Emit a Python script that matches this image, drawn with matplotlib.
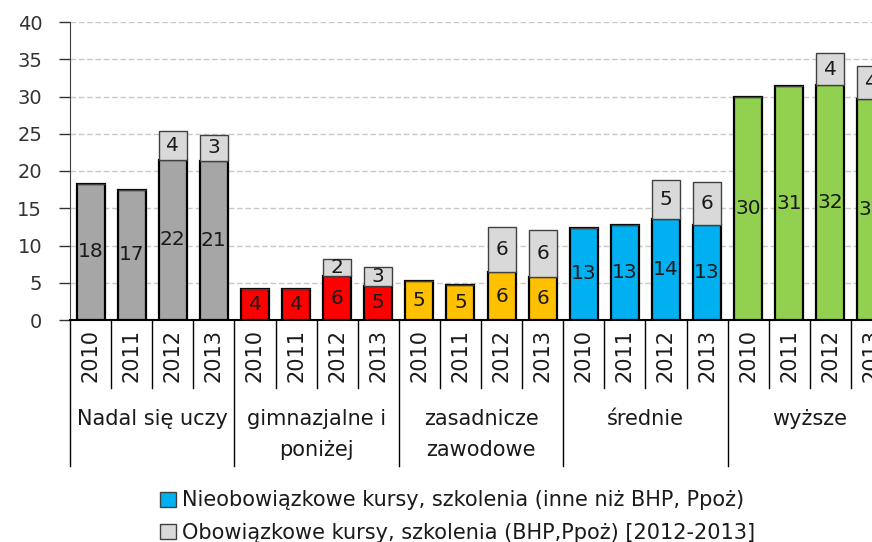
import matplotlib
matplotlib.use("Agg")
import matplotlib.pyplot as plt
from matplotlib.patches import Patch

# ── dane ──
groups = ["Nadal się uczy", "gimnazjalne i\nponiżej", "zasadnicze\nzawodowe", "średnie", "wyższe"]
years = ["2010", "2011", "2012", "2013"]
group_colors = ["#A6A6A6", "#FF0000", "#FFC000", "#00B0F0", "#92D050"]

# nieobowiązkowe kursy (dolna część słupka)
base_values = [
    18.3, 17.5, 21.5, 21.4,
    4.2, 4.2, 5.9, 4.6,
    5.3, 4.7, 6.4, 5.8,
    12.4, 12.7, 13.5, 12.7,
    29.9, 31.4, 31.5, 29.7,
]
base_labels = [
    18, 17, 22, 21,
    4, 4, 6, 5,
    5, 5, 6, 6,
    13, 13, 14, 13,
    30, 31, 32, 30,
]
# obowiązkowe kursy BHP/Ppoż (tylko 2012-2013)
top_values = [
    0, 0, 3.9, 3.4,
    0, 0, 2.3, 2.5,
    0, 0, 6.1, 6.3,
    0, 0, 5.3, 5.8,
    0, 0, 4.3, 4.4,
]
top_labels = [
    None, None, 4, 3,
    None, None, 2, 3,
    None, None, 6, 6,
    None, None, 5, 6,
    None, None, 4, 4,
]
legend_labels = [
    "Nieobowiązkowe kursy, szkolenia (inne niż BHP, Ppoż)",
    "Obowiązkowe kursy, szkolenia (BHP,Ppoż) [2012-2013]",
]

NUM_FONT = ["DejaVu Sans"]
TXT_FONT = ["Liberation Sans Narrow", "DejaVu Sans Condensed", "DejaVu Sans"]
TEXT_C = "#1A1A1A"

fig = plt.figure(figsize=(8.72, 5.42), dpi=100)
ax = fig.add_axes([70 / 872, 222 / 542, 822 / 872, 298 / 542])

n = len(base_values)
xs = [i + 0.5 for i in range(n)]
colors = [group_colors[i // len(years)] for i in range(n)]

ax.bar(xs, base_values, width=0.68, color=colors, edgecolor="black", linewidth=1.6, zorder=3)
ax.bar(xs, top_values, bottom=base_values, width=0.68, color="#D9D9D9",
       edgecolor="#404040", linewidth=1.0, zorder=3)

for x, b, t, bl, tl in zip(xs, base_values, top_values, base_labels, top_labels):
    ax.text(x, b / 2, str(bl), ha="center", va="center", fontsize=14.5,
            family=NUM_FONT, color=TEXT_C, zorder=4)
    if tl is not None:
        ax.text(x, b + t / 2, str(tl), ha="center", va="center", fontsize=14.5,
                family=NUM_FONT, color=TEXT_C, zorder=4)

ax.set_xlim(0, n)
ax.set_ylim(0, 40)
ax.set_yticks(range(0, 41, 5))
ax.tick_params(axis="y", labelsize=14, colors="#333333", length=8, width=1,
               direction="out", pad=12)
for lbl in ax.get_yticklabels():
    lbl.set_family(NUM_FONT)
ax.set_xticks([])
ax.yaxis.grid(True, linestyle=(0, (4, 2)), color="#C8C8C8", linewidth=1)
ax.set_axisbelow(True)
for side in ("top", "right"):
    ax.spines[side].set_visible(False)
ax.spines["left"].set_color("#404040")
ax.spines["bottom"].set_color("black")
ax.spines["bottom"].set_linewidth(1.5)

# ── oś kategorii (dwupoziomowa) ──
tr = ax.get_xaxis_transform()
for i in range(n + 1):
    depth = -0.49 if i % len(years) == 0 else -0.228
    ax.plot([i, i], [0, depth], transform=tr, color="black", linewidth=1, clip_on=False)

for i, x in enumerate(xs):
    ax.text(x, -0.03, years[i % len(years)], transform=tr, rotation=90,
            ha="center", va="top", fontsize=15, family=NUM_FONT, color=TEXT_C)

for g, name in enumerate(groups):
    ax.text(g * len(years) + len(years) / 2, -0.30, name, transform=tr,
            ha="center", va="top", fontsize=15, family=TXT_FONT, color=TEXT_C,
            linespacing=1.65)

# ── legenda ──
handles = [
    Patch(facecolor="#00B0F0", edgecolor="#404040", linewidth=1),
    Patch(facecolor="#D9D9D9", edgecolor="#404040", linewidth=1),
]
leg = fig.legend(handles, legend_labels, loc="upper left",
                 bbox_to_anchor=(150 / 872, 1 - 480 / 542), frameon=False,
                 handlelength=0.75, handleheight=0.75, handletextpad=0.3,
                 labelspacing=0.6, borderpad=0,
                 prop={"family": TXT_FONT, "size": 15})
for t in leg.get_texts():
    t.set_color(TEXT_C)

fig.savefig("out.png", dpi=100, facecolor="white")
